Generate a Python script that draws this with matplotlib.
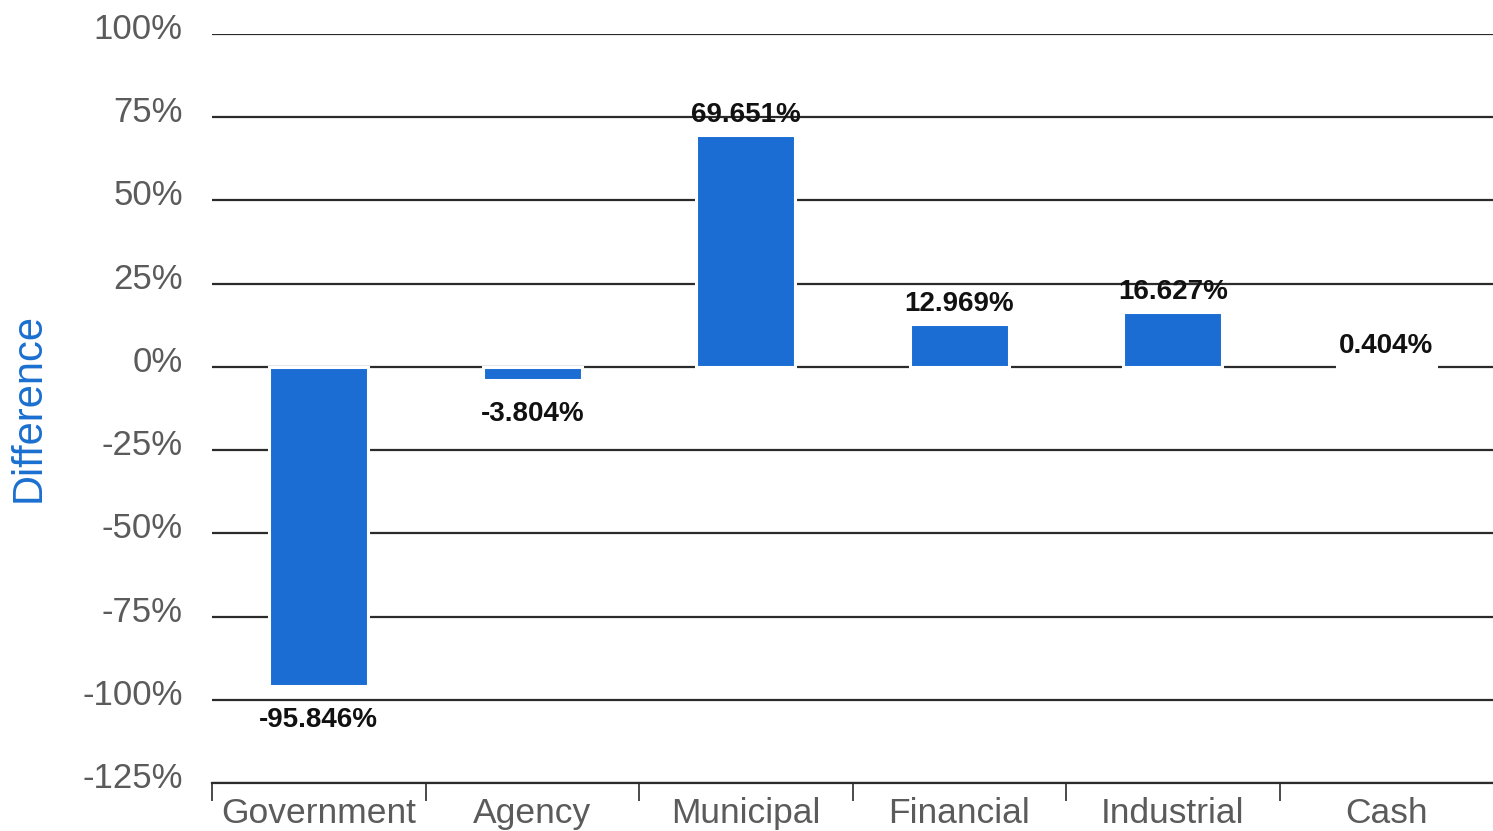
import matplotlib
matplotlib.use("Agg")
import matplotlib.pyplot as plt
from matplotlib.transforms import ScaledTranslation
import numpy as np

categories = ["Government", "Agency", "Municipal", "Financial", "Industrial", "Cash"]
values = [-95.846, -3.804, 69.651, 12.969, 16.627, 0.404]
yticks = [-125, -100, -75, -50, -25, 0, 25, 50, 75, 100]
ytick_labels = ["-125%", "-100%", "-75%", "-50%", "-25%", "0%", "25%", "50%", "75%", "100%"]
y_title = "Difference"

plt.rcParams["font.family"] = ["Liberation Sans", "DejaVu Sans"]

W, H, DPI = 1493, 831, 100
fig = plt.figure(figsize=(W / DPI, H / DPI), dpi=DPI)
ax = fig.add_axes([212 / W, 1 - 783 / H, (1493 - 212) / W, (783 - 34) / H])

x = np.arange(len(categories))
bar_color = "#1c6dd3"
bars = ax.bar(x, values, width=0.463, color=bar_color, edgecolor="white",
              linewidth=2.2, zorder=3)

ax.set_xlim(-0.5, len(categories) - 0.5)
ax.set_ylim(-125, 100)

# grid
ax.set_yticks(yticks)
ax.set_yticklabels(ytick_labels)
ax.yaxis.grid(True, color="#2b2b2b", linewidth=1.6, zorder=1)
ax.set_axisbelow(True)
ax.tick_params(axis="y", length=0, pad=21, labelsize=25, labelcolor="#5b5b5b")
offset = ScaledTranslation(0, 8 / DPI, fig.dpi_scale_trans)
for lab in ax.get_yticklabels():
    lab.set_transform(lab.get_transform() + offset)

# x axis
ax.set_xticks(x)
ax.set_xticklabels(categories)
ax.set_xticks(np.arange(len(categories)) - 0.5, minor=True)
ax.tick_params(axis="x", which="major", length=0, pad=10, labelsize=25.5, labelcolor="#5b5b5b")
ax.tick_params(axis="x", which="minor", length=13, width=1.2, color="#2b2b2b", direction="out")

for s in ["left", "right", "top"]:
    ax.spines[s].set_visible(False)
ax.spines["bottom"].set_color("#2b2b2b")
ax.spines["bottom"].set_linewidth(1.6)

# value labels
for xi, v in zip(x, values):
    off = 20 if v >= 0 else -34
    ax.annotate(f"{v:.3f}%", xy=(xi, v), xytext=(0, off), textcoords="offset pixels",
                ha="center", va="center", fontsize=20, fontweight="bold",
                color="#111111", zorder=5)

fig.text(29 / W, 1 - 408 / H, y_title, rotation=90, ha="center", va="center",
         fontsize=30, color="#1a6fd0")

fig.savefig("out.png", dpi=DPI, facecolor="white")
